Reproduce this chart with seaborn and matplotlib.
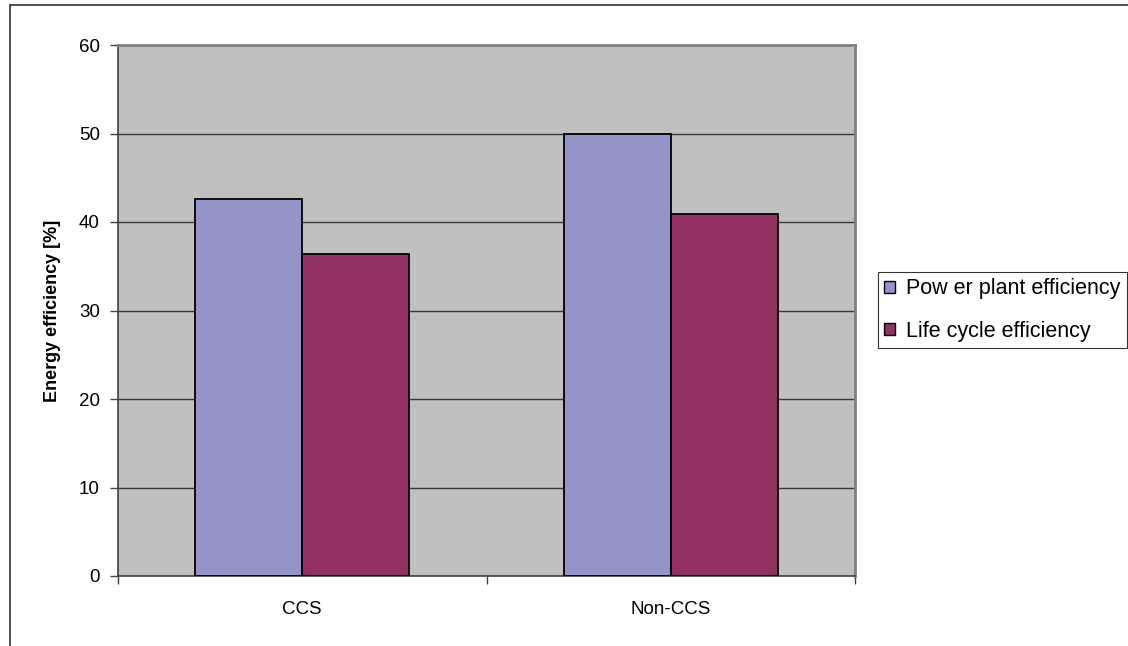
import matplotlib
matplotlib.use("Agg")
import matplotlib.pyplot as plt
from matplotlib.lines import Line2D
import seaborn as sns
import pandas as pd

categories = ["CCS", "Non-CCS"]
series_names = ["Pow er plant efficiency", "Life cycle efficiency"]
power_plant = [42.6, 50.0]
life_cycle = [36.4, 40.9]
y_ticks = [0, 10, 20, 30, 40, 50, 60]
colors = ["#9494C8", "#923162"]

df = pd.DataFrame({
    "case": categories * 2,
    "series": [series_names[0]] * 2 + [series_names[1]] * 2,
    "value": power_plant + life_cycle,
})

sns.set_theme(style="white")
plt.rcParams["font.family"] = ["Liberation Sans", "DejaVu Sans"]
plt.rcParams["text.color"] = "black"
plt.rcParams["axes.labelcolor"] = "black"
plt.rcParams["xtick.color"] = "black"
plt.rcParams["ytick.color"] = "black"

fig = plt.figure(figsize=(11.28, 6.46), dpi=100)
ax = fig.add_axes([118 / 1128, 70 / 646, 737 / 1128, 531 / 646])
ax.set_facecolor("#C0C0C0")

sns.barplot(data=df, x="case", y="value", hue="series", order=categories,
            hue_order=series_names, palette=colors, width=0.58,
            edgecolor="black", linewidth=1.3, saturation=1, ax=ax, zorder=3)

ax.set_ylim(0, 60)
ax.set_xlim(-0.5, 1.5)
ax.set_yticks(y_ticks)
ax.yaxis.grid(True, color="#3a3a3a", linewidth=1.0, zorder=0)
ax.set_axisbelow(True)

# ticks at category boundaries, labels centred under each group
ax.set_xticks([-0.5, 0.5, 1.5])
ax.set_xticklabels(["", "", ""])
ax.set_xticks([0, 1], minor=True)
ax.set_xticklabels(categories, minor=True)
ax.tick_params(axis="x", which="major", direction="out", length=6,
               width=1, color="#404040", bottom=True)
ax.tick_params(axis="x", which="minor", length=0, pad=18, labelsize=13.5)
ax.tick_params(axis="y", direction="out", length=6, width=1,
               color="#404040", left=True, labelsize=13.5, pad=7)

ax.set_xlabel("")
ax.set_ylabel("Energy efficiency [%]", fontsize=13, fontweight="bold",
              labelpad=13)

for side in ["left", "bottom"]:
    ax.spines[side].set_color("#404040")
    ax.spines[side].set_linewidth(1.2)
for side in ["top", "right"]:
    ax.spines[side].set_color("#808080")
    ax.spines[side].set_linewidth(2)

leg = ax.legend(loc="upper left", bbox_to_anchor=(878 / 1128, 1 - 272 / 646),
                bbox_transform=fig.transFigure, frameon=True, fancybox=False,
                edgecolor="black", fontsize=15.5, handlelength=0.5,
                handleheight=0.5, handletextpad=0.5, labelspacing=0.98,
                borderpad=0.3, borderaxespad=0)
leg.get_frame().set_linewidth(0.8)
for h in leg.legend_handles:
    h.set_edgecolor("black")
    h.set_linewidth(1.0)

# outer chart border
fig.add_artist(Line2D([9.5 / 1128, 9.5 / 1128], [0, 1 - 5 / 646],
                      transform=fig.transFigure, color="#303030", lw=1.2))
fig.add_artist(Line2D([9.5 / 1128, 1], [1 - 5 / 646, 1 - 5 / 646],
                      transform=fig.transFigure, color="#303030", lw=1.2))

fig.savefig("out.png", dpi=100)
